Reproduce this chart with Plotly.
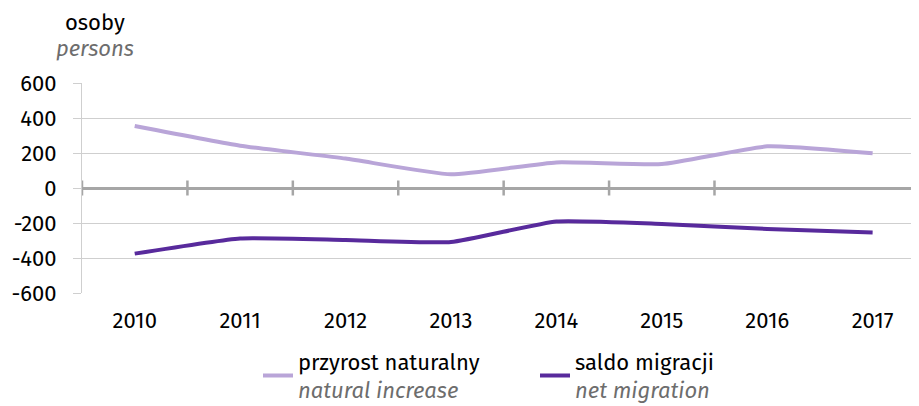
import plotly.graph_objects as go

years = ["2010", "2011", "2012", "2013", "2014", "2015", "2016", "2017"]
natural_increase = [354, 242, 168, 78, 146, 137, 238, 198]
net_migration = [-375, -288, -297, -309, -191, -205, -234, -254]
y_ticks = [-600, -400, -200, 0, 200, 400, 600]
y_tick_text = [str(v) for v in y_ticks]

FONT = "Fira Sans, Noto Sans, sans-serif"
FS = 22
LIGHT = "#b9a5d8"
DARK = "#582a9c"
GRAY_IT = "#6d6d6d"

x_idx = list(range(len(years)))

fig = go.Figure()
fig.add_trace(go.Scatter(
    x=x_idx, y=natural_increase, mode="lines",
    line=dict(color=LIGHT, width=4, shape="spline", smoothing=0.45),
    name="przyrost naturalny<br><span style='color:%s'><i>natural increase</i></span>" % GRAY_IT,
))
fig.add_trace(go.Scatter(
    x=x_idx, y=net_migration, mode="lines",
    line=dict(color=DARK, width=4, shape="spline", smoothing=0.45),
    name="saldo migracji<br><span style='color:%s'><i>net migration</i></span>" % GRAY_IT,
))

# tick marks crossing the zero line at category boundaries
for i in range(len(years) - 1):
    fig.add_shape(type="line", xref="x", yref="y", x0=i - 0.5, x1=i - 0.5,
                  ysizemode="pixel", yanchor=0, y0=-7.5, y1=7.5,
                  line=dict(color="#a6a6a6", width=2.5), layer="above")

W, H = 911, 398  # page body has an 8px margin
fig.update_layout(
    width=W, height=H,
    margin=dict(l=74, r=0, t=75, b=113, autoexpand=False),
    paper_bgcolor="white", plot_bgcolor="white",
    font=dict(family=FONT, size=FS, color="#000000"),
    showlegend=True,
    legend=dict(orientation="h", xref="container", yref="container",
                x=250 / W, xanchor="left", y=(H - 368) / H, yanchor="middle",
                font=dict(family=FONT, size=22, color="#000000"),
                entrywidth=232, tracegroupgap=0, bgcolor="rgba(0,0,0,0)"),
    xaxis=dict(range=[-0.5, 7.44], tickvals=x_idx, ticktext=years, ticks="",
               showgrid=False, zeroline=False, showline=False,
               ticklabelstandoff=12, fixedrange=True),
    yaxis=dict(range=[-600, 600], tickvals=y_ticks, ticktext=y_tick_text,
               showgrid=True, gridcolor="#cfcfcf", gridwidth=1,
               zeroline=True, zerolinecolor="#a6a6a6", zerolinewidth=2.5,
               showline=True, linecolor="#cfcfcf", linewidth=1,
               ticks="outside", ticklen=8, tickcolor="#cfcfcf",
               ticklabelstandoff=12, fixedrange=True),
    annotations=[
        dict(text="osoby", xref="paper", yref="paper", x=(94.5 - 82) / 837, y=(292.7 - 22) / 210,
             xanchor="center", yanchor="middle", showarrow=False,
             font=dict(family=FONT, size=22, color="#000000")),
        dict(text="<i>persons</i>", xref="paper", yref="paper", x=(94.5 - 82) / 837, y=(292.7 - 48) / 210,
             xanchor="center", yanchor="middle", showarrow=False,
             font=dict(family=FONT, size=22, color=GRAY_IT)),
    ],
)

fig.write_html("out.html")
